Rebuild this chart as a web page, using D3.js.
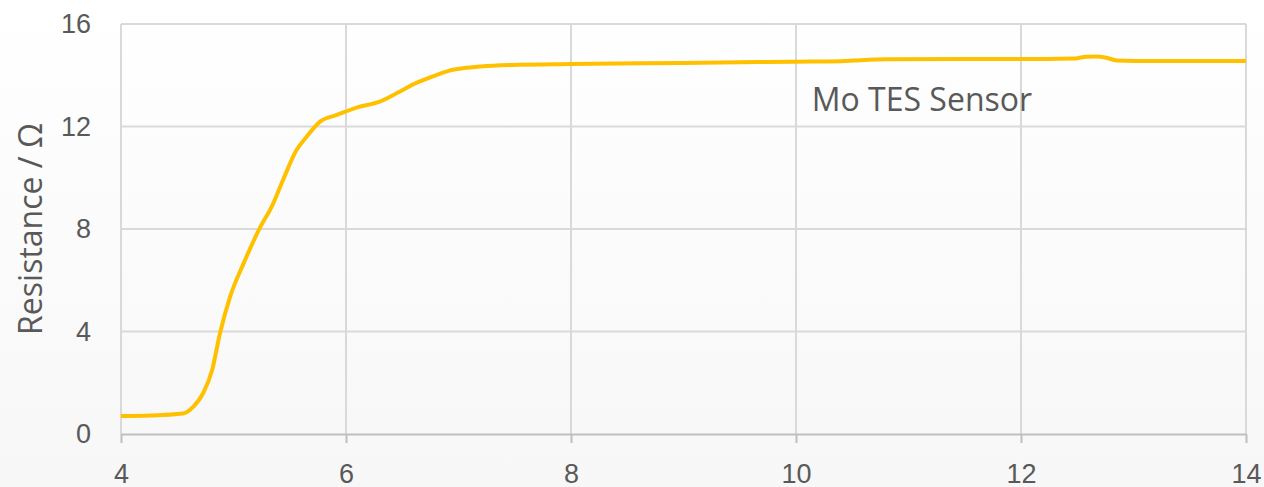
<!DOCTYPE html>
<html>
<head>
<meta charset="utf-8">
<script src="https://cdn.jsdelivr.net/npm/d3@7"></script>
<style>
  body { margin: 0; background: #fff; }
  svg { display: block; font-family: "Open Sans", "Noto Sans", sans-serif; }
  .tick text { fill: #595959; font-size: 27px; }
</style>
</head>
<body>
<svg id="chart"></svg>
<script>
  // temperature (K) and resistance (ohm)
  const temps = [4.0, 4.26, 4.55, 4.65, 4.73, 4.81, 4.88, 4.97, 5.09, 5.24, 5.34, 5.44, 5.56, 5.65, 5.77, 5.92,
    6.10, 6.30, 6.45, 6.63, 6.78, 6.92, 7.04, 7.2, 7.48, 8.0, 9.0, 10.0, 10.4, 10.8, 11.5, 12.0,
    12.46, 12.58, 12.67, 12.76, 12.85, 13.2, 14.0];
  const resist = [0.70, 0.72, 0.80, 1.1, 1.59, 2.50, 3.93, 5.36, 6.66, 8.09, 8.87, 9.91, 11.08, 11.60, 12.19, 12.45,
    12.75, 12.97, 13.30, 13.71, 13.97, 14.18, 14.27, 14.34, 14.40, 14.44, 14.48, 14.53, 14.55, 14.62, 14.63, 14.63,
    14.65, 14.72, 14.73, 14.68, 14.58, 14.56, 14.56];
  const xTicks = [4, 6, 8, 10, 12, 14];
  const yTicks = [0, 4, 8, 12, 16];

  const WIDTH = 1264, HEIGHT = 487;
  const MARGINS = {left: 121, right: 18, top: 24, bottom: 53};

  const svg = d3.select('#chart').attr('width', WIDTH).attr('height', HEIGHT);

  const grad = svg.append('defs').append('linearGradient')
    .attr('id', 'bg').attr('x1', 0).attr('y1', 0).attr('x2', 0).attr('y2', 1);
  grad.append('stop').attr('offset', 0).attr('stop-color', '#ffffff');
  grad.append('stop').attr('offset', 1).attr('stop-color', '#f7f7f7');
  svg.append('rect').attr('width', WIDTH).attr('height', HEIGHT).attr('fill', 'url(#bg)');

  const x = d3.scaleLinear().domain([4, 14]).range([MARGINS.left, WIDTH - MARGINS.right]);
  const y = d3.scaleLinear().domain([0, 16]).range([HEIGHT - MARGINS.bottom, MARGINS.top]);

  // gridlines
  svg.append('g')
    .selectAll('line.v')
    .data(xTicks)
    .enter().append('line')
    .attr('x1', d => x(d)).attr('x2', d => x(d))
    .attr('y1', y(16)).attr('y2', y(0))
    .attr('stroke', '#d9d9d9').attr('stroke-width', 2);

  svg.append('g')
    .selectAll('line.h')
    .data(yTicks.filter(d => d > 0))
    .enter().append('line')
    .attr('x1', x(4)).attr('x2', x(14))
    .attr('y1', d => y(d)).attr('y2', d => y(d))
    .attr('stroke', '#d9d9d9').attr('stroke-width', 2);

  // x axis
  const xAxis = svg.append('g')
    .attr('transform', `translate(0, ${y(0)})`)
    .call(d3.axisBottom(x).tickValues(xTicks).tickSize(9).tickPadding(21).tickSizeOuter(0));
  xAxis.select('.domain').attr('stroke', '#bfbfbf').attr('stroke-width', 2);
  xAxis.selectAll('.tick line').attr('stroke', '#bfbfbf').attr('stroke-width', 2);

  // y axis labels only
  const yAxis = svg.append('g')
    .attr('transform', `translate(${x(4)}, 0)`)
    .call(d3.axisLeft(y).tickValues(yTicks).tickSize(0).tickPadding(30));
  yAxis.select('.domain').remove();

  svg.append('text')
    .attr('transform', `translate(42, ${(y(0) + y(16)) / 2}) rotate(-90)`)
    .attr('text-anchor', 'middle')
    .attr('fill', '#595959')
    .attr('font-size', 32)
    .text('Resistance / Ω');

  const line = d3.line()
    .x((d, i) => x(temps[i]))
    .y(d => y(d))
    .curve(d3.curveMonotoneX);

  svg.append('path')
    .datum(resist)
    .attr('d', line)
    .attr('fill', 'none')
    .attr('stroke', '#ffc000')
    .attr('stroke-width', 4)
    .attr('stroke-linejoin', 'round');

  svg.append('text')
    .attr('x', x(10.14))
    .attr('y', y(12.62))
    .attr('fill', '#595959')
    .attr('font-size', 32)
    .text('Mo TES Sensor');
</script>
</body>
</html>
